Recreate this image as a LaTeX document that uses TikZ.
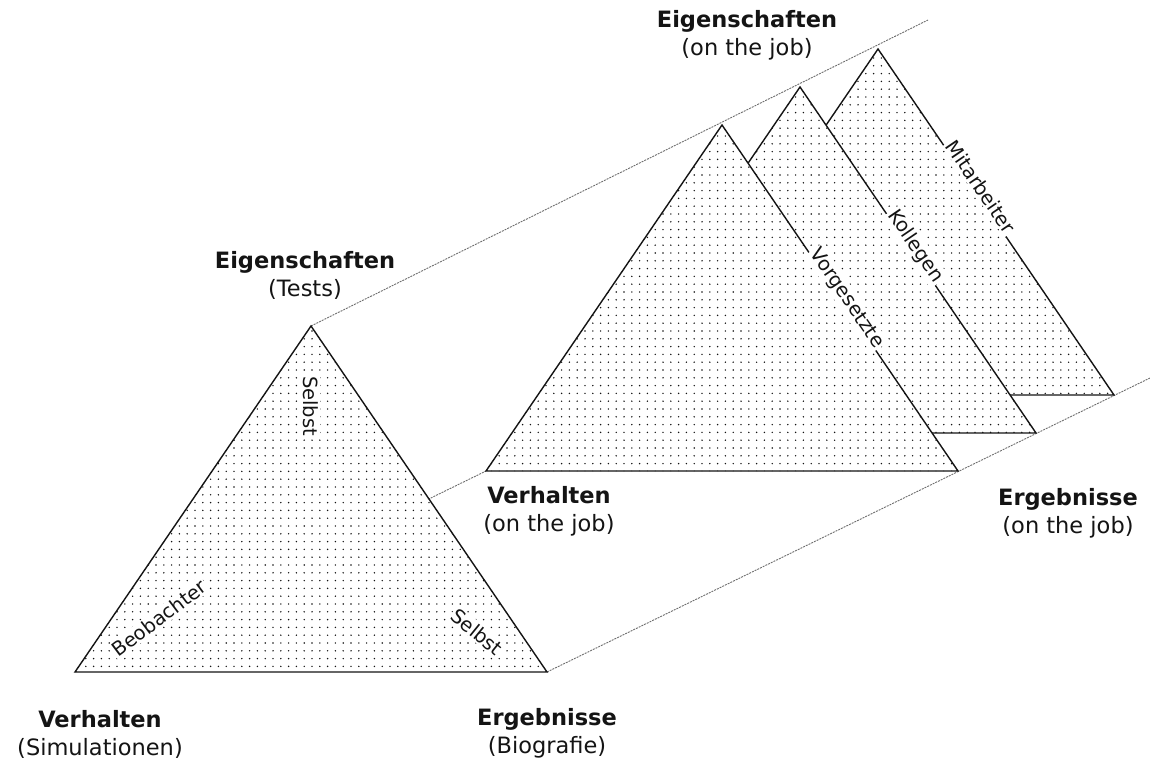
\documentclass[tikz,border=0pt]{standalone}
\usepackage{fontspec}
\setmainfont{DejaVu Sans}
\usetikzlibrary{patterns.meta}
\definecolor{GuideGray}{RGB}{110,110,110}
\definecolor{InkBlack}{RGB}{20,20,20}
\tikzset{
  pyramid/.style={
    draw=InkBlack,
    line width=1.4pt,
    preaction={fill=white},
    pattern={Dots[distance=7.8pt,radius=0.8pt]},
    pattern color=InkBlack
  },
  guide/.style={
    draw=GuideGray,
    line width=0.9pt,
    dash pattern=on 2pt off 1pt
  },
  cornerlabel/.style={
    align=center,
    text=InkBlack,
    font=\fontsize{22.5}{28}\selectfont
  },
  sidelabel/.style={
    fill=white,
    inner sep=1.5pt,
    text=InkBlack,
    font=\fontsize{19.5}{24}\selectfont
  }
}

\begin{document}
\begin{tikzpicture}[x=1pt,y=-1pt]
  \useasboundingbox (0,0) rectangle (1150,760);
  % corners of the pyramids
  \coordinate (F-top) at (311,326);
  \coordinate (F-left) at (75,672);
  \coordinate (F-right) at (547,672);
  \coordinate (V-top) at (722,125);
  \coordinate (V-left) at (486,471);
  \coordinate (V-right) at (958,471);
  \coordinate (K-top) at (800,87);
  \coordinate (K-left) at (564,433);
  \coordinate (K-right) at (1036,433);
  \coordinate (M-top) at (878,49);
  \coordinate (M-left) at (642,395);
  \coordinate (M-right) at (1114,395);
  \coordinate (top-end) at (928,20);
  \coordinate (bottom-end) at (1150,378);

  % guide lines
  \draw[guide] (F-top) -- (top-end);
  \draw[guide] (F-left) -- (V-left);
  \draw[guide] (F-right) -- (bottom-end);

  % pyramids, back to front
  \draw[pyramid] (M-top) -- (M-right) -- (M-left) -- cycle;
  \path (M-top) -- (M-right) node[sidelabel,sloped,anchor=base,pos=0.41] (staff) {Mitarbeiter};
  \draw[pyramid] (K-top) -- (K-right) -- (K-left) -- cycle;
  \path (K-top) -- (K-right) node[sidelabel,sloped,anchor=base,pos=0.47] (peers) {Kollegen};
  \draw[pyramid] (V-top) -- (V-right) -- (V-left) -- cycle;
  \path (V-top) -- (V-right) node[sidelabel,sloped,anchor=base,pos=0.51] (boss) {Vorgesetzte};
  \draw[pyramid] (F-top) -- (F-right) -- (F-left) -- cycle;

  \node[sidelabel,rotate=-90] (self-top) at (311,406) {Selbst};
  \node[sidelabel,rotate=37] (observer) at (159,618) {Beobachter};
  \node[sidelabel,rotate=-39] (self-low) at (477,632) {Selbst};

  % corner titles
  \node[cornerlabel] (beh-sim) at (100,734) {\textbf{Verhalten}\\(Simulationen)};
  \node[cornerlabel] (res-bio) at (547,733) {\textbf{Ergebnisse}\\(Biografie)};
  \node[cornerlabel] (prop-test) at (305,275) {\textbf{Eigenschaften}\\(Tests)};
  \node[cornerlabel] (beh-job) at (549,511) {\textbf{Verhalten}\\(on the job)};
  \node[cornerlabel] (res-job) at (1068,513) {\textbf{Ergebnisse}\\(on the job)};
  \node[cornerlabel] (prop-job) at (747,35) {\textbf{Eigenschaften}\\(on the job)};
\end{tikzpicture}
\end{document}
